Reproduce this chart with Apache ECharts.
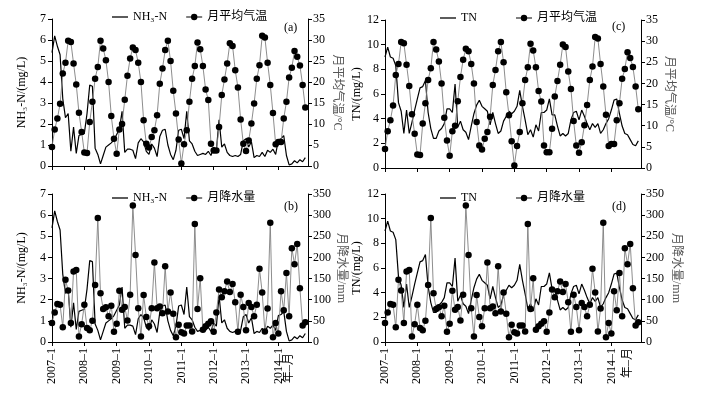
<!DOCTYPE html>
<html><head><meta charset="utf-8">
<script src="https://cdn.jsdelivr.net/npm/echarts@6/dist/echarts.min.js"></script>
<style>html,body{margin:0;padding:0;background:#fff}#c{width:701px;height:393px}</style>
</head><body><div id="c"></div>
<script>
const years = ['2007','2008','2009','2010','2011','2012','2013','2014'];
const monthNums = [1,2,3,4,5,6,7,8,9,10,11,12];
const categories = [];
years.forEach(y => monthNums.forEach(m => categories.push(y + '–' + m)));

const nh3n = [
 5.4,6.2,5.7,5.3,3.2,2.3,2.5,0.7,1.85,0.6,1.45,1.5,
 1.55,2.5,3.85,3.8,0.85,0.55,0.1,0.5,0.9,1.0,1.1,1.25,
 1.5,1.75,2.6,0.65,0.8,0.8,0.75,0.35,1.1,1.3,1.15,0.7,
 0.55,1.05,0.85,0.45,1.4,1.7,1.75,1.0,0.55,0.3,0.75,1.7,
 1.75,1.3,2.6,1.2,1.05,0.7,0.5,0.55,0.6,0.55,0.7,0.5,
 0.9,0.75,2.2,0.9,1.05,0.65,0.5,0.45,0.5,0.45,0.55,1.2,
 1.3,0.9,1.15,0.4,0.5,0.45,0.65,0.45,0.75,0.65,0.8,0.55,
 1.25,1.3,1.45,0.5,0.05,0.1,0.25,0.15,0.3,0.2,0.4
];
const tn = [
 9.0,9.8,9.0,8.9,8.3,5.3,4.6,2.8,4.7,2.8,3.7,4.7,
 5.6,6.5,6.6,7.1,4.5,3.2,2.4,2.4,3.0,3.2,3.6,4.8,
 4.8,4.5,6.8,3.3,3.8,3.1,2.9,2.3,3.4,4.4,5.1,5.5,
 5.0,4.8,4.6,3.5,4.5,3.6,2.8,3.0,3.8,4.2,4.6,4.4,
 4.6,5.0,6.3,5.0,3.9,2.7,3.1,2.5,3.5,3.0,4.5,4.5,
 4.7,5.6,4.3,4.3,3.4,2.6,2.8,2.6,2.8,3.9,4.5,4.6,
 3.9,4.7,4.2,3.6,3.1,3.6,3.3,3.6,2.8,3.1,3.6,4.0,
 4.7,5.5,5.6,4.4,3.4,2.8,2.7,2.3,1.9,1.8,2.2
];
const temperature = [
 4.5,8.7,11.3,14.8,22.0,24.6,29.8,29.5,24.4,19.4,12.7,8.1,
 3.2,3.1,10.5,15.3,20.8,23.6,29.8,28.0,25.2,20.0,11.9,6.5,
 2.9,8.7,10.0,15.8,21.5,25.6,28.2,27.6,24.6,20.0,10.9,5.3,
 4.4,6.9,8.5,12.1,19.6,23.2,27.6,29.8,25.0,17.9,12.5,6.3,
 0.6,5.2,8.5,15.3,20.8,23.8,29.4,27.8,23.8,18.2,15.7,5.3,
 3.7,3.7,9.3,16.9,20.6,24.4,29.2,28.6,22.8,18.7,11.1,5.3,
 3.6,6.1,10.1,14.9,20.8,24.0,31.0,30.6,24.6,19.3,12.6,5.2,
 5.7,5.7,11.3,15.3,21.1,23.4,27.4,26.0,23.9,19.3,13.9
];
const precipitation = [
 45,70,90,88,35,147,122,45,167,170,13,42,
 88,33,28,50,135,293,115,78,82,61,86,24,
 43,121,76,83,51,112,323,206,80,13,111,59,
 37,80,188,80,84,68,179,72,117,67,11,41,
 23,20,39,39,25,279,78,151,29,37,43,49,
 24,70,124,106,120,143,118,137,94,24,112,83,
 28,92,83,61,88,173,117,25,79,282,11,45,
 20,120,75,163,61,222,184,232,127,39,47
];
const nh3Ticks = {min:0,max:7,interval:1};
const tnTicks = {min:0,max:12,interval:2};
const tempTicks = {min:0,max:35,interval:5};
const precTicks = {min:0,max:350,interval:50};

const FONT = '"Liberation Serif","Times New Roman","DejaVu Serif","Noto Sans CJK SC",serif';
const chart = echarts.init(document.getElementById('c'), null, {renderer:'canvas'});

function xAx(gi, showLabel){
  return {type:'category', gridIndex:gi, data:categories, boundaryGap:false,
    axisLine:{show:true,lineStyle:{color:'#000',width:1}},
    axisTick:{show:true,interval:(i)=>i%12===0,length:4,inside:false,lineStyle:{color:'#000',width:1}},
    axisLabel:{show:showLabel,interval:(i)=>i%12===0,rotate:90,margin:6,fontSize:12,color:'#000',fontFamily:FONT},
    splitLine:{show:false}};
}
function yAx(gi, pos, t, name, gap, rot, nameColor){
  return {type:'value', gridIndex:gi, position:pos, min:t.min, max:t.max, interval:t.interval,
    axisLine:{show:true,lineStyle:{color:'#000',width:1}},
    axisTick:{show:true,length:4,inside:false,lineStyle:{color:'#000',width:1}},
    axisLabel:{margin:pos==='left'?6:5,fontSize:12,color:'#000',fontFamily:FONT},
    splitLine:{show:false},
    name:name, nameLocation:'middle', nameGap:gap, nameRotate:rot,
    nameTextStyle:{fontSize:12,color:nameColor,fontFamily:FONT}};
}
function mainLine(name, xi, yi, data){
  return {type:'line', name:name, xAxisIndex:xi, yAxisIndex:yi, data:data, symbol:'none',
    lineStyle:{color:'#000',width:1.2}, itemStyle:{color:'#000'}, z:2, silent:true};
}
function dotLine(name, xi, yi, data){
  return {type:'line', name:name, xAxisIndex:xi, yAxisIndex:yi, data:data, symbol:'circle', symbolSize:6.5,
    showSymbol:true, showAllSymbol:true,
    lineStyle:{color:'#808080',width:0.9}, itemStyle:{color:'#000',borderWidth:0}, z:3, silent:true};
}
const LINE_ICON = 'path://M0,0L20,0L20,1.6L0,1.6Z';
function leg(lineName, dotName, left, top, gap){
  return {data:[{name:lineName, icon:LINE_ICON, itemStyle:{color:'#000'}}, {name:dotName}],
    left:left, top:top, itemWidth:16, itemHeight:8, itemGap:gap, selectedMode:false,
    padding:0, textStyle:{fontSize:12,color:'#000',fontFamily:FONT}};
}
const option = {
  animation:false,
  backgroundColor:'#fff',
  textStyle:{fontFamily:FONT,color:'#000'},
  grid:[
    {left:52,top:19,width:256,height:147,containLabel:false,outerBoundsMode:'none'},
    {left:52,top:194,width:256,height:148,containLabel:false,outerBoundsMode:'none'},
    {left:385,top:20,width:256,height:148,containLabel:false,outerBoundsMode:'none'},
    {left:385,top:194,width:256,height:148,containLabel:false,outerBoundsMode:'none'}
  ],
  xAxis:[xAx(0,false),xAx(1,true),xAx(2,false),xAx(3,true)],
  yAxis:[
    yAx(0,'left',nh3Ticks,'NH₃-N/(mg/L)',24,90,'#000'),
    yAx(0,'right',tempTicks,'月平均气温/°C',23,-90,'#555'),
    yAx(1,'left',nh3Ticks,'NH₃-N/(mg/L)',24,90,'#000'),
    yAx(1,'right',precTicks,'月降水量/mm',25,-90,'#555'),
    yAx(2,'left',tnTicks,'TN/(mg/L)',19,90,'#000'),
    yAx(2,'right',tempTicks,'月平均气温/°C',22,-90,'#555'),
    yAx(3,'left',tnTicks,'TN/(mg/L)',19,90,'#000'),
    yAx(3,'right',precTicks,'月降水量/mm',29,-90,'#555')
  ],
  legend:[
    leg('NH₃-N','月平均气温',112,11,18),
    leg('NH₃-N','月降水量',112,192,18),
    leg('TN','月平均气温',440,12,38),
    leg('TN','月降水量',440,192,38)
  ],
  series:[
    mainLine('NH₃-N',0,0,nh3n), dotLine('月平均气温',0,1,temperature),
    mainLine('NH₃-N',1,2,nh3n), dotLine('月降水量',1,3,precipitation),
    mainLine('TN',2,4,tn), dotLine('月平均气温',2,5,temperature),
    mainLine('TN',3,6,tn), dotLine('月降水量',3,7,precipitation)
  ],
  graphic:[
    {type:'text',left:284,top:22,style:{text:'(a)',font:'12px '+FONT,fill:'#000'}},
    {type:'text',left:284,top:201,style:{text:'(b)',font:'12px '+FONT,fill:'#000'}},
    {type:'text',left:612,top:21,style:{text:'(c)',font:'12px '+FONT,fill:'#000'}},
    {type:'text',left:612,top:201,style:{text:'(d)',font:'12px '+FONT,fill:'#000'}},
    {type:'text',x:289,y:368,rotation:Math.PI/2,style:{text:'年–月',font:'12px '+FONT,fill:'#000',align:'center',verticalAlign:'middle'}},
    {type:'text',x:628,y:363,rotation:Math.PI/2,style:{text:'年–月',font:'12px '+FONT,fill:'#000',align:'center',verticalAlign:'middle'}}
  ]
};
chart.setOption(option);
</script></body></html>
